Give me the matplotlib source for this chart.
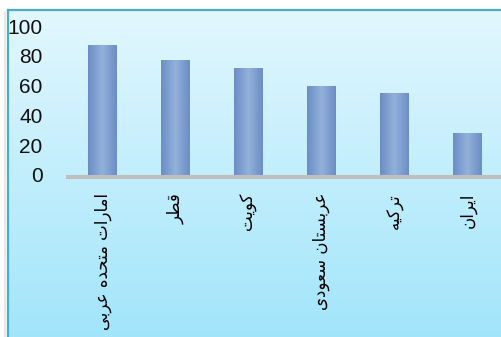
import numpy as np
import matplotlib
matplotlib.use("Agg")
import matplotlib.pyplot as plt
from matplotlib.colors import LinearSegmentedColormap
from matplotlib.transforms import ScaledTranslation

# Data
countries = ["امارات متحده عربی", "قطر", "کویت", "عربستان سعودی", "ترکیه", "ایران"]
values = [87, 77, 72, 60, 55, 28]
yticks = [0, 20, 40, 60, 80, 100]

# Minimal Arabic-script shaping (presentation forms) since matplotlib draws
# glyphs one by one without contextual joining.
FORMS = {
    # letter: (isolated, final, initial, medial) ; None => does not join forward
    "ا": ("\uFE8D", "\uFE8E", None, None),
    "ب": ("\uFE8F", "\uFE90", "\uFE91", "\uFE92"),
    "ت": ("\uFE95", "\uFE96", "\uFE97", "\uFE98"),
    "ح": ("\uFEA1", "\uFEA2", "\uFEA3", "\uFEA4"),
    "د": ("\uFEA9", "\uFEAA", None, None),
    "ر": ("\uFEAD", "\uFEAE", None, None),
    "س": ("\uFEB1", "\uFEB2", "\uFEB3", "\uFEB4"),
    "ط": ("\uFEC1", "\uFEC2", "\uFEC3", "\uFEC4"),
    "ع": ("\uFEC9", "\uFECA", "\uFECB", "\uFECC"),
    "ق": ("\uFED5", "\uFED6", "\uFED7", "\uFED8"),
    "م": ("\uFEE1", "\uFEE2", "\uFEE3", "\uFEE4"),
    "ن": ("\uFEE5", "\uFEE6", "\uFEE7", "\uFEE8"),
    "ه": ("\uFEE9", "\uFEEA", "\uFEEB", "\uFEEC"),
    "و": ("\uFEED", "\uFEEE", None, None),
    "ک": ("\uFB8E", "\uFB8F", "\uFB90", "\uFB91"),
    "ی": ("\uFBFC", "\uFBFD", "\uFBFE", "\uFBFF"),
}


def shape(text):
    out = []
    n = len(text)
    for i, ch in enumerate(text):
        if ch not in FORMS:
            out.append(ch)
            continue
        prev = text[i - 1] if i > 0 else None
        nxt = text[i + 1] if i < n - 1 else None
        joins_prev = prev in FORMS and FORMS[prev][2] is not None
        can_fwd = FORMS[ch][2] is not None
        joins_next = can_fwd and nxt in FORMS
        iso, fin, ini, med = FORMS[ch]
        if joins_prev and joins_next:
            out.append(med)
        elif joins_prev:
            out.append(fin)
        elif joins_next:
            out.append(ini)
        else:
            out.append(iso)
    return "".join(out)[::-1]


W, H = 501, 337
fig = plt.figure(figsize=(W / 100, H / 100), dpi=100)
fig.patch.set_facecolor("white")

# Panel background with vertical gradient and teal border
px0, py1 = 8 / W, (H - 10) / H
bg = fig.add_axes([px0, 0, 1 - px0, py1])
bg.set_axis_off()
grad_cmap = LinearSegmentedColormap.from_list("panel", ["#A2E5FB", "#E2F7FE"])
bg.imshow(np.linspace(0, 1, 256).reshape(-1, 1), cmap=grad_cmap, aspect="auto",
          origin="lower", extent=[0, 1, 0, 1])
bg.set_xlim(0, 1)
bg.set_ylim(0, 1)
fig.add_artist(plt.Line2D([px0, px0], [0, py1], color="#4BACC6", lw=1.6))
fig.add_artist(plt.Line2D([px0, 1], [py1, py1], color="#4BACC6", lw=1.6))
fig.add_artist(plt.Line2D([px0 - 2.5 / W, px0 - 2.5 / W], [0, py1 - 2 / H],
                          color="#E4E4E4", lw=1.2))

# Chart axes
ax = fig.add_axes([66 / W, 162 / H, 438 / W, 149 / H])
ax.set_facecolor("none")
x = np.arange(len(countries))
bars = ax.bar(x, values, width=0.39, color="#8AA8D4", zorder=3)

bar_cmap = LinearSegmentedColormap.from_list(
    "bar", ["#6C8DC6", "#93B1DA", "#6C8DC6"])
hgrad = np.linspace(0, 1, 64).reshape(1, -1)
for b in bars:
    im = ax.imshow(hgrad, cmap=bar_cmap, aspect="auto", zorder=3.5,
                   extent=[b.get_x(), b.get_x() + b.get_width(), 0, b.get_height()])
    im.set_clip_path(b)

ax.set_xlim(-0.5, len(countries) - 0.5)
ax.set_ylim(0, 100)

base_trans = ax.get_yaxis_transform() + ScaledTranslation(0, -2 / 100, fig.dpi_scale_trans)
ax.plot([0, 1], [0, 0], transform=base_trans, color="#BFBFBF", lw=2.9,
        solid_capstyle="butt", zorder=2, clip_on=False)

for s in ax.spines.values():
    s.set_visible(False)
ax.set_yticks(yticks)
ax.set_yticklabels([str(t) for t in yticks], fontsize=15,
                   family="Liberation Sans", color="#111111")
ax.tick_params(axis="y", length=0, pad=17)
ax.set_xticks(x)
ax.set_xticklabels([])
ax.tick_params(axis="x", length=0)

for xi, name in zip(x, countries):
    ax.text(xi, 0, shape(name), rotation=90, ha="center", va="top",
            fontsize=12, family=["DejaVu Sans"], color="black",
            transform=ax.transData + ScaledTranslation(0, -18 / 100, fig.dpi_scale_trans))

fig.savefig("out.png", dpi=100)
